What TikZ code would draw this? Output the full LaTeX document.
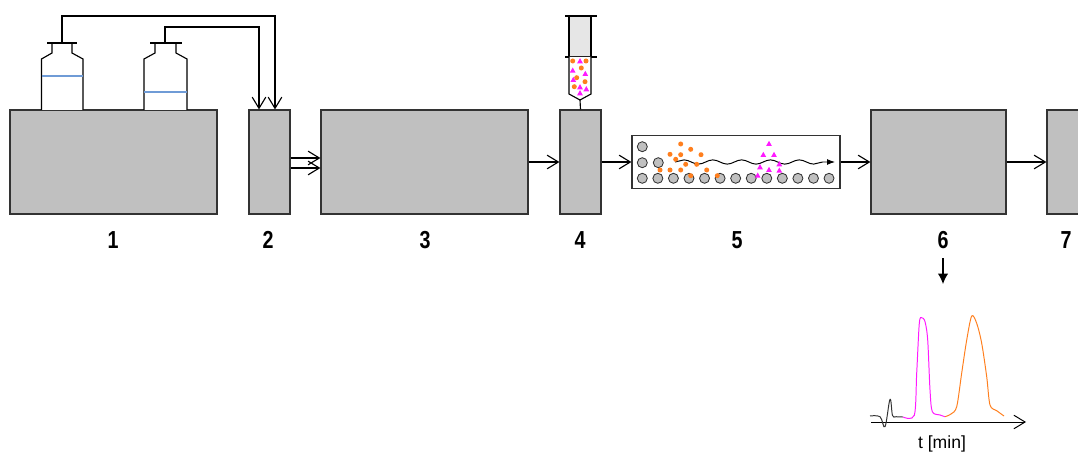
\documentclass[tikz,border=0pt]{standalone}
\usepackage{fontspec}
\setmainfont{Liberation Sans}
\newfontfamily\numfont[FakeStretch=0.8]{Liberation Sans}
\usetikzlibrary{arrows.meta,decorations.pathmorphing}

\definecolor{unitgrey}{HTML}{C0C0C0}
\definecolor{edgegrey}{HTML}{333333}
\definecolor{eluent}{HTML}{6F9BD6}
\definecolor{plunger}{HTML}{E6E6E6}
\definecolor{analyteA}{HTML}{FF7F1E}
\definecolor{analyteB}{HTML}{FF1AFF}

\begin{document}
\begin{tikzpicture}[x=0.025cm,y=-0.025cm,line width=0.8pt,
    unit/.style={draw=edgegrey,fill=unitgrey,minimum height=2.6cm,inner sep=0pt},
    num/.style={font=\numfont\fontsize{17.5}{20}\selectfont\bfseries},
    flow/.style={-{Straight Barb[length=2.8mm,width=3.4mm]}},
    bead/.style={draw=edgegrey,fill=unitgrey,line width=0.6pt}]
    \useasboundingbox (0,0) rectangle (1078,452);

    %units
    \node[unit,minimum width=5.175cm] (b1) at (113.5,162) {};
    \node[unit,minimum width=1.025cm] (b2) at (269.5,162) {};
    \node[unit,minimum width=5.175cm] (b3) at (424.5,162) {};
    \node[unit,minimum width=1.025cm] (b4) at (580.5,162) {};
    \node[draw=edgegrey,fill=white,inner sep=0pt,minimum width=5.2cm,minimum height=1.325cm] (col) at (736,162) {};
    \node[unit,minimum width=3.375cm] (b6) at (938.5,162) {};
    \node[unit,minimum width=1.025cm] (b7) at (1067.5,162) {};

    \node[num] (n1) at (113,240) {1};
    \node[num] (n2) at (268,240) {2};
    \node[num] (n3) at (425,240) {3};
    \node[num] (n4) at (580,240) {4};
    \node[num] (n5) at (737,240) {5};
    \node[num] (n6) at (943,240) {6};
    \node[num] (n7) at (1066,240) {7};

    %solvent bottles
    \draw[fill=white] (41.5,110) -- (41.5,59) -- (52,53) -- (52,43) -- (72,43) -- (72,53) -- (83,59) -- (83,110);
    \draw[eluent] (41.5,76) -- (83,76);
    \draw (47,43) -- (77,43);
    \draw[fill=white] (144,110) -- (144,59) -- (155,53) -- (155,43) -- (176,43) -- (176,53) -- (187,59) -- (187,110);
    \draw[eluent] (144,92) -- (187,92);
    \draw (150,43) -- (182,43);
    \coordinate (cap1) at (62,43);
    \coordinate (cap2) at (165,43);
    \draw[flow] (cap1) |- (275,16) -- (b2.north -| 275,0);
    \draw[flow] (cap2) |- (259,27) -- (b2.north -| 259,0);

    %syringe
    \draw[fill=plunger] (569,16) rectangle (591,57);
    \draw (565,16) -- (597,16);
    \draw (565,57) -- (597,57);
    \draw[fill=white] (569,57) -- (569,94) -- (580,100) -- (591,94) -- (591,57);
    \coordinate (tip) at (580,100);
    \draw (tip) -- (b4.north);
    \foreach \x/\y in {572.7/61,586/61,581.3/68,576.7/77.7,585/81.7,574.3/86.7}
        \fill[analyteA] (\x,\y) circle[radius=2.5];
    \foreach \x/\y in {580/61.3,572.7/70.7,585.3/74,573.3/80,580/87.3,586.3/89.3,580/93.3}
        \fill[analyteB] (\x,\y-3.2) -- (\x+2.9,\y+2) -- (\x-2.9,\y+2) -- cycle;

    %flow path
    \draw[flow] (b2.east |- 0,158) -- (b3.west |- 0,158);
    \draw[flow] (b2.east |- 0,168) -- (b3.west |- 0,168);
    \draw[flow] (b3) -- (b4);
    \draw[flow] (b4) -- (col);
    \draw[flow] (col) -- (b6);
    \draw[flow] (b6) -- (b7);

    %column packing
    \foreach \i in {0,...,12}
        \filldraw[bead] (642.3+15.56*\i,178.3) circle[radius=5];
    \filldraw[bead] (642.3,162.7) circle[radius=5];
    \filldraw[bead] (658.3,162.7) circle[radius=5];
    \filldraw[bead] (642.3,146.7) circle[radius=5];
    \coordinate (w0) at (675,162);
    \coordinate (w1) at (835,162);
    \draw[line width=0.7pt,decorate,decoration={snake,amplitude=1.5pt,segment length=0.72cm,post length=2mm},-{Latex[length=2mm]}] (w0) -- (w1);
    \foreach \x/\y in {680.7/144,690.7/149.3,670/154.3,680.7/154.7,701/154.7,675.7/159.3,685.7/164.3,696.7/164.3,660/170,670/170,680.7/170,706.7/170,690.7/175.7,717.3/175.7}
        \fill[analyteA] (\x,\y) circle[radius=2.5];
    \foreach \x/\y in {769/144,763.3/155,774/155,779.3/164.3,760/167.3,769/170,779.3/170.7,757.7/175.7}
        \fill[analyteB] (\x,\y-3.2) -- (\x+2.9,\y+2) -- (\x-2.9,\y+2) -- cycle;

    %chromatogram
    \coordinate (peaks) at (943,284);
    \draw[shorten <=3pt,-{Latex[length=2.6mm,width=2.6mm]}] (n6) -- (peaks);
    \coordinate (t0) at (871,422);
    \coordinate (t1) at (1026,422);
    \draw[flow,line width=0.7pt] (t0) -- (t1);
    \node[font=\fontsize{12.5}{15}\selectfont] (tlab) at (942,444) {t [min]};
    \draw[line width=0.7pt,black!80] plot[smooth,tension=0.6] coordinates {(870,416) (880,416.7) (885,426.7) (890,399.3) (892.5,415.5) (896,416.7) (903,417)};
    \draw[line width=0.7pt,analyteB] plot[smooth,tension=0.5] coordinates {(903,417) (914.3,415.3) (916.7,373) (919.3,323.3) (921.7,317.7) (925,321.7) (927.7,340) (930,390) (932.3,411.7) (940,415) (945,416.7)};
    \draw[line width=0.7pt,analyteA] plot[smooth,tension=0.5] coordinates {(945,416.7) (951,414) (956.7,406.7) (961.7,373) (966.7,340) (971.7,316) (976.7,323.3) (981.7,343.3) (986.7,376.7) (990,405) (996.7,410.7) (1004,416)};
\end{tikzpicture}
\end{document}
